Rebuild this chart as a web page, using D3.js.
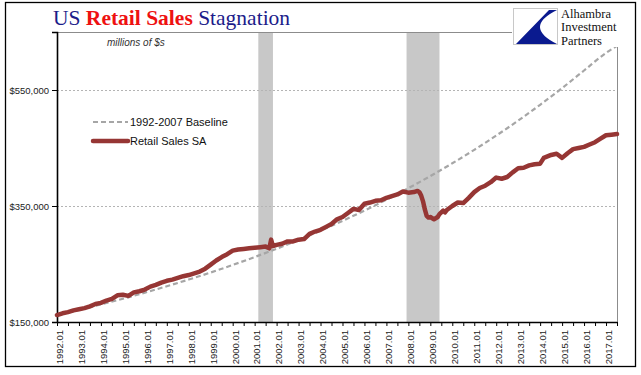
<!DOCTYPE html>
<html>
<head>
<meta charset="utf-8">
<script src="https://cdn.jsdelivr.net/npm/d3@7/dist/d3.min.js"></script>
<style>
  body { margin: 0; background: #fff; }
</style>
</head>
<body>
<div id="retail_chart"></div>
<script>
// Data (millions of $s), months written as "YYYY.MM"
const salesMonths = ["1992.01","1992.04","1992.07","1992.10","1993.01","1993.04","1993.07","1993.10",
  "1994.01","1994.04","1994.07","1994.10","1995.01","1995.04","1995.07","1995.10",
  "1996.01","1996.04","1996.07","1996.10","1997.01","1997.04","1997.07","1997.10",
  "1998.01","1998.04","1998.07","1998.10","1999.01","1999.04","1999.07","1999.10",
  "2000.01","2000.04","2000.07","2000.10","2001.01","2001.04","2001.07","2001.09","2001.10","2001.11",
  "2002.01","2002.04","2002.07","2002.10","2003.01","2003.04","2003.07","2003.10",
  "2004.01","2004.04","2004.07","2004.10","2005.01","2005.04","2005.07","2005.10",
  "2006.01","2006.04","2006.07","2006.10","2007.01","2007.04","2007.07","2007.10",
  "2008.01","2008.04","2008.06","2008.07","2008.08","2008.09","2008.10","2008.11","2008.12",
  "2009.01","2009.03","2009.05","2009.06","2009.08","2009.09","2009.10",
  "2010.01","2010.04","2010.07","2010.10","2011.01","2011.04","2011.07","2011.10",
  "2012.01","2012.04","2012.07","2012.10","2013.01","2013.04","2013.07","2013.10",
  "2014.01","2014.03","2014.07","2014.10","2015.01","2015.04","2015.07","2015.10",
  "2016.01","2016.04","2016.07","2016.10","2017.01","2017.04","2017.07"];
const salesValues = [162000,165000,167000,170000,172000,174000,177000,181000,
  183000,187000,190000,196000,197000,195000,201000,203000,
  206000,211000,214000,218000,221000,223000,226000,229000,
  231000,234000,237000,242000,249000,256000,262000,267000,
  273000,275000,276000,277000,278000,279000,280000,277000,292000,281000,
  283000,285000,289000,289000,292000,293000,302000,306000,
  309000,314000,319000,327000,331000,338000,345000,343000,
  354000,356000,359000,360000,364000,367000,370000,375000,
  373000,374000,376000,374000,368000,358000,344000,333000,330000,
  331000,327000,331000,336000,342000,339000,343000,
  350000,356000,355000,364000,374000,381000,385000,391000,
  399000,397000,400000,408000,415000,416000,420000,422000,
  423000,433000,438000,440000,433000,441000,448000,450000,
  452000,456000,460000,466000,472000,473000,474000];

const baselineMonths = ["1992.01","1993.01","1994.01","1995.01","1996.01","1997.01","1998.01",
  "1999.01","2000.01","2001.01","2002.01","2003.01","2004.01","2005.01","2006.01","2007.01",
  "2008.01","2009.01","2010.01","2011.01","2012.01","2013.01","2014.01","2015.01","2016.01",
  "2017.01","2017.07"];
const baselineValues = [162000,170900,180300,190100,200600,211600,223200,235400,248300,262000,
  276300,291500,307500,324300,342100,360900,380700,401600,423600,446800,471400,497200,
  524500,553300,583600,614000,626000];

const yearLabels = ["1992.01","1993.01","1994.01","1995.01","1996.01","1997.01","1998.01",
  "1999.01","2000.01","2001.01","2002.01","2003.01","2004.01","2005.01","2006.01","2007.01",
  "2008.01","2009.01","2010.01","2011.01","2012.01","2013.01","2014.01","2015.01","2016.01","2017.01"];
const recessionStarts = ["2001.03","2007.12"];
const recessionEnds = ["2001.11","2009.06"];
const yTickValues = [150000, 350000, 550000];

//Margin
const margin = { top: 32, right: 24, bottom: 53, left: 57 };
const width = 641 - margin.left - margin.right;
const height = 375 - margin.top - margin.bottom;

// month string -> index from 1992.01
var monthIndex = function(s) {
  var p = s.split(".");
  return (+p[0] - 1992) * 12 + (+p[1] - 1);
};

var xScale = d3.scaleLinear()
               .domain([0, monthIndex("2017.07")])
               .range([0, width]);
var yScale = d3.scaleLinear()
               .domain([150000, 650000])
               .range([height, 0]);

const svg = d3.select("#retail_chart")
              .append("svg")
               .attr("width", 641)
               .attr("height", 375)
               .style("display", "block");

// outer frame
svg.append("rect")
    .attr("x", 5.5).attr("y", 2.5)
    .attr("width", 630).attr("height", 364)
    .attr("fill", "#fff")
    .attr("stroke", "#000")
    .attr("stroke-width", 1.3);

var g = svg.append("g")
           .attr("transform", "translate(" + margin.left + "," + margin.top + ")");

// recession bands
g.selectAll(".recession")
  .data(recessionStarts)
  .enter()
  .append("rect")
   .attr("class", "recession")
   .attr("x", function(d) { return xScale(monthIndex(d)); })
   .attr("y", 0)
   .attr("width", function(d, i) { return xScale(monthIndex(recessionEnds[i])) - xScale(monthIndex(d)); })
   .attr("height", height)
   .attr("fill", "#c8c8c8");

// gridlines
g.selectAll(".grid")
  .data(yTickValues.slice(1))
  .enter()
  .append("line")
   .attr("class", "grid")
   .attr("x1", 0).attr("x2", width)
   .attr("y1", function(d) { return Math.round(yScale(d)) + 0.5; })
   .attr("y2", function(d) { return Math.round(yScale(d)) + 0.5; })
   .attr("stroke", "#b4b4b4")
   .attr("stroke-dasharray", "2,2");

// plot border (top, right)
g.append("path")
  .attr("d", "M0.5,0.5H" + (width + 0.5) + "V" + height)
  .attr("fill", "none")
  .attr("stroke", "#8c8c8c");

// y axis
var yAxis = d3.axisLeft(yScale)
              .tickValues(yTickValues)
              .tickFormat(function(d) { return "$" + d3.format(",")(d); })
              .tickSize(5)
              .tickPadding(3);
var yAxisG = g.append("g")
              .attr("class", "yAxis")
              .call(yAxis);
yAxisG.select(".domain").attr("stroke", "#000").attr("stroke-width", 1.6);
yAxisG.selectAll("text")
       .attr("font-family", "Liberation Sans, Arial, sans-serif")
       .attr("font-size", "9.5")
       .attr("fill", "#222");

// x axis, tick every 6 months, label every January
var xAxis = d3.axisBottom(xScale)
              .tickValues(d3.range(0, monthIndex("2017.07") + 1, 6))
              .tickFormat(function(d) {
                var lbl = yearLabels.find(function(s) { return monthIndex(s) === d; });
                return lbl ? lbl : "";
              })
              .tickSize(4)
              .tickSizeOuter(0);
var xAxisG = g.append("g")
              .attr("class", "xAxis")
              .attr("transform", "translate(0," + height + ")")
              .call(xAxis);
xAxisG.select(".domain").attr("stroke", "#000").attr("stroke-width", 1.3);
xAxisG.selectAll("text")
       .attr("font-family", "Liberation Sans, Arial, sans-serif")
       .attr("font-size", "9.5")
       .attr("fill", "#222")
       .attr("text-anchor", "end")
       .attr("transform", "rotate(-90)")
       .attr("x", -8)
       .attr("y", 2)
       .attr("dy", "0.35em");

// lines
var line = d3.line()
             .x(function(d) { return xScale(monthIndex(d[0])); })
             .y(function(d) { return yScale(d[1]); });

g.append("path")
  .datum(d3.zip(baselineMonths, baselineValues))
  .attr("fill", "none")
  .attr("stroke", "#a6a6a6")
  .attr("stroke-width", 2.2)
  .attr("stroke-dasharray", "5,3")
  .attr("d", line.curve(d3.curveMonotoneX));

g.append("path")
  .datum(d3.zip(salesMonths, salesValues))
  .attr("fill", "none")
  .attr("stroke", "#963634")
  .attr("stroke-width", 4.5)
  .attr("stroke-linejoin", "round")
  .attr("stroke-linecap", "round")
  .attr("d", line.curve(d3.curveLinear));

// legend
var legendItems = [
  { name: "1992-2007 Baseline", color: "#a6a6a6", w: 2.2, dash: "5,3" },
  { name: "Retail Sales SA", color: "#963634", w: 4.5, dash: null }
];
var legend = svg.selectAll(".legend")
                .data(legendItems)
                .enter().append("g")
                 .attr("class", "legend")
                 .attr("transform", function(d, i) { return "translate(93," + (122 + i * 19) + ")"; });
legend.append("line")
       .attr("x1", 0).attr("x2", 35)
       .attr("stroke", function(d) { return d.color; })
       .attr("stroke-width", function(d) { return d.w; })
       .attr("stroke-dasharray", function(d) { return d.dash; })
       .attr("stroke-linecap", function(d) { return d.dash ? "butt" : "round"; });
legend.append("text")
       .attr("x", 37)
       .attr("y", 4)
       .attr("font-family", "Liberation Sans, Arial, sans-serif")
       .attr("font-size", "11")
       .attr("fill", "#111")
       .text(function(d) { return d.name; });

// units note
svg.append("text")
    .attr("x", 107).attr("y", 46)
    .attr("font-family", "Liberation Sans, Arial, sans-serif")
    .attr("font-style", "italic")
    .attr("font-size", "10")
    .attr("fill", "#333")
    .text("millions of $s");

// title
var title = svg.append("text")
               .attr("x", 53).attr("y", 25)
               .attr("font-family", "Liberation Serif, Times New Roman, serif")
               .attr("font-size", "21.5")
               .attr("fill", "#1c1c8a");
title.append("tspan").text("US ");
title.append("tspan").attr("fill", "#ee1111").attr("font-weight", "bold").text("Retail Sales");
title.append("tspan").text(" Stagnation");

// logo
svg.append("rect")
    .attr("x", 512).attr("y", 4)
    .attr("width", 108).attr("height", 43)
    .attr("fill", "#fff");
svg.append("rect")
    .attr("x", 513.5).attr("y", 8.5)
    .attr("width", 44).attr("height", 36)
    .attr("fill", "#fff")
    .attr("stroke", "#c8c8c8");
svg.append("path")
    .attr("d", "M549,10 L557,10 Q523,27 557,44 L516,44 Z")
    .attr("fill", "#0a1a8f");
svg.selectAll(".logoText")
    .data(["Alhambra", "Investment", "Partners"])
    .enter().append("text")
     .attr("class", "logoText")
     .attr("x", 561)
     .attr("y", function(d, i) { return 17.5 + i * 13.5; })
     .attr("font-family", "Liberation Serif, Times New Roman, serif")
     .attr("font-size", "12.5")
     .attr("fill", "#111")
     .text(function(d) { return d; });
</script>
</body>
</html>
